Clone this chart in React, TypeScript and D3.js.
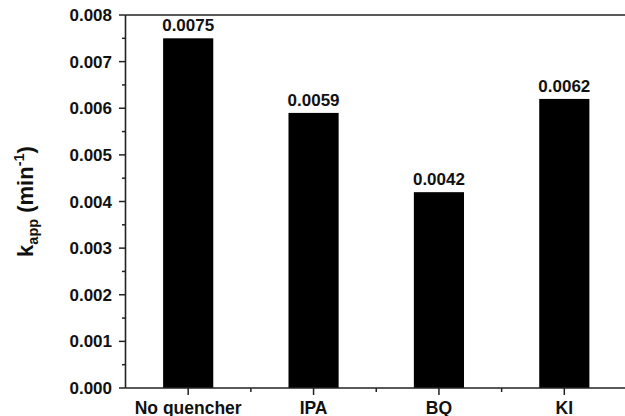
import React from "react";
import * as d3 from "d3";

const categories = ["No quencher", "IPA", "BQ", "KI"];
const values = [0.0075, 0.0059, 0.0042, 0.0062];
const valueLabels = ["0.0075", "0.0059", "0.0042", "0.0062"];
const yTicks = [0, 0.001, 0.002, 0.003, 0.004, 0.005, 0.006, 0.007, 0.008];
const yMinorTicks = [0.0005, 0.0015, 0.0025, 0.0035, 0.0045, 0.0055, 0.0065, 0.0075];

const W = 625;
const H = 416;
const left = 125.5;
const right = 627;
const top = 15;
const bottom = 388;

export default function App() {
  const x = d3.scaleLinear().domain([0.5, 4.5]).range([left, right]);
  const y = d3.scaleLinear().domain([0, 0.008]).range([bottom, top]);
  const barW = (x(2) - x(1)) * 0.4;
  const font = "'Liberation Sans', Arial, Helvetica, sans-serif";
  const axisColor = "#222";
  const xMinor = [1.5, 2.5, 3.5, 4.5];

  return (
    <svg
      width={W}
      height={H}
      style={{ position: "absolute", left: 0, top: 0, background: "#fff" }}
      fontFamily={font}
    >
      {/* bars */}
      {values.map((v, i) => (
        <rect
          key={categories[i]}
          x={x(i + 1) - barW / 2}
          y={y(v)}
          width={barW}
          height={y(0) - y(v)}
          fill="#000"
        />
      ))}
      {/* value labels */}
      {values.map((v, i) => (
        <text
          key={"l" + i}
          x={x(i + 1)}
          y={y(v) - 7}
          textAnchor="middle"
          fontSize={17}
          fontWeight="bold"
          fill="#111"
        >
          {valueLabels[i]}
        </text>
      ))}
      {/* frame */}
      <line x1={left} x2={W} y1={top} y2={top} stroke={axisColor} strokeWidth={1.6} />
      <line x1={left} x2={W} y1={bottom} y2={bottom} stroke={axisColor} strokeWidth={1.6} />
      <line x1={left} x2={left} y1={top} y2={bottom} stroke={axisColor} strokeWidth={1.6} />
      {/* y ticks */}
      {yTicks.map((t) => (
        <g key={"yt" + t}>
          <line x1={left - 6.5} x2={left} y1={y(t)} y2={y(t)} stroke={axisColor} strokeWidth={1.5} />
          <text
            x={left - 13.5}
            y={y(t)}
            dy="0.36em"
            textAnchor="end"
            fontSize={17}
            fontWeight="bold"
            fill="#111"
          >
            {d3.format(".3f")(t)}
          </text>
        </g>
      ))}
      {yMinorTicks.map((t) => (
        <line key={"ym" + t} x1={left - 3.5} x2={left} y1={y(t)} y2={y(t)} stroke={axisColor} strokeWidth={1.5} />
      ))}
      {/* x ticks */}
      {categories.map((c, i) => (
        <g key={"xt" + c}>
          <line x1={x(i + 1)} x2={x(i + 1)} y1={bottom} y2={bottom + 7} stroke={axisColor} strokeWidth={1.5} />
          <text x={x(i + 1)} y={413.5} textAnchor="middle" fontSize={17.5} fontWeight="bold" fill="#111">
            {c}
          </text>
        </g>
      ))}
      {xMinor.map((t) => (
        <line key={"xm" + t} x1={x(t)} x2={x(t)} y1={bottom} y2={bottom + 4} stroke={axisColor} strokeWidth={1.5} />
      ))}
      {/* y title */}
      <text
        transform={`translate(33, ${(top + bottom) / 2}) rotate(-90)`}
        textAnchor="middle"
        fontSize={22}
        fontWeight="bold"
        fill="#111"
      >
        <tspan>k</tspan>
        <tspan fontSize={14.5} dy={5}>app</tspan>
        <tspan dy={-5}> (min</tspan>
        <tspan fontSize={14.5} dy={-9}>-1</tspan>
        <tspan dy={9}>)</tspan>
      </text>
    </svg>
  );
}
